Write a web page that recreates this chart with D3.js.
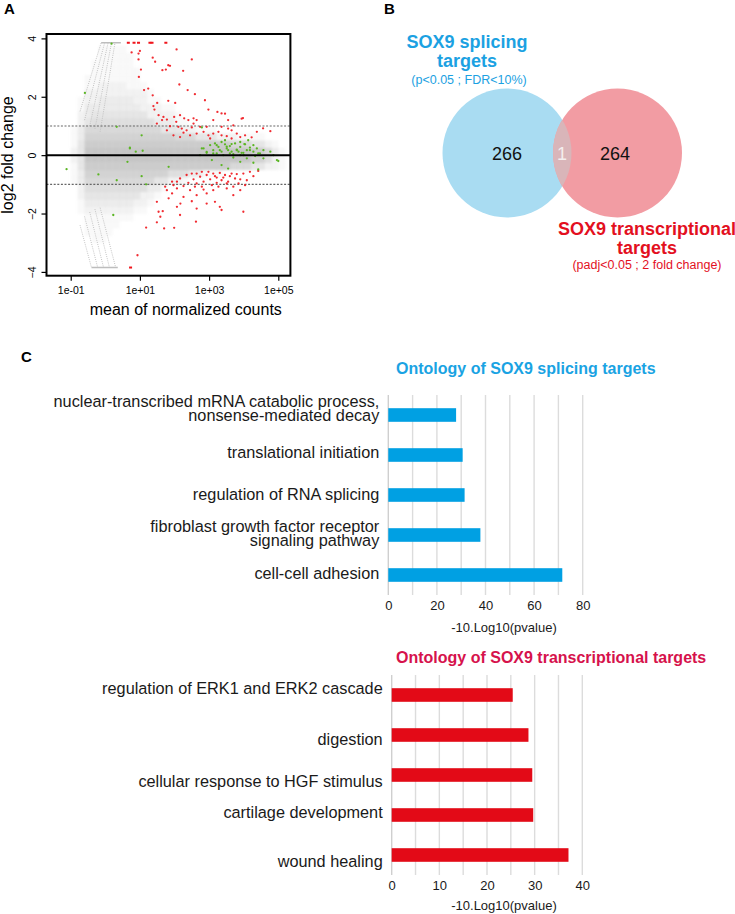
<!DOCTYPE html>
<html><head><meta charset="utf-8">
<script src="https://cdn.jsdelivr.net/npm/d3@7"></script>
<style>
body{margin:0;background:#fff}
svg{display:block}
text{font-family:"Liberation Sans",Arial,Helvetica,sans-serif}
</style>
</head><body>
<svg id="fig" width="735" height="914"></svg>
<script>
// ---------------- DATA ----------------
// Panel A: MA plot (x = log10 mean of normalized counts, y = log2 fold change)
const maXTicks = [0.1, 10, 1000, 100000];
const maXTickLabels = ["1e-01", "1e+01", "1e+03", "1e+05"];
const maYTicks = [-4, -2, 0, 2, 4];
// gray point density, rows from lfc 4 down to -4 (step 0.25), columns from log10 -1.4 (step 0.2)
const maGrayDensity = [
  "0",
  "0000001111",
  "00000011111",
  "00000111111",
  "000001111111",
  "000011111111",
  "0000112222111",
  "00002222222221",
  "000122333332211",
  "00013333333322211",
  "000234444444422221",
  "000245555555553331100",
  "00136666666666644422111",
  "001377777777777776664442221111",
  "0014888888888888888888888666442100",
  "0024999999999999999999999999886310",
  "0024999999999999999999999999775210",
  "0014888888888888888888888666442210",
  "0013777777777777555331110",
  "00136666666666442210",
  "0002555555555331",
  "000244444444221",
  "00013333333221",
  "0001222222211",
  "00001111111",
  "000011111",
  "00001111",
  "0000011",
  "0", "0", "0", "0"
];
// low-count streaks [log10 start, lfc start, log10 end, lfc end]
const maStreaks = [
  [-0.73, 1.5, -0.12, 3.85], [-0.6, 1.2, -0.02, 3.85], [-0.45, 1.0, 0.08, 3.85],
  [-0.3, 0.9, 0.18, 3.85], [-0.15, 0.8, 0.28, 3.85],
  [-0.73, -2.4, -0.4, -3.85], [-0.6, -2.1, -0.22, -3.85], [-0.45, -1.95, -0.05, -3.85],
  [-0.3, -1.85, 0.12, -3.85], [-0.15, -1.8, 0.3, -3.85]
];
// capped (out of range) gray genes [log10 start, log10 end, lfc]
const maGrayCaps = [[-0.12, 0.45, 3.85], [-0.4, 0.36, -3.85]];
const maRedUp = [
  [0.76,3.52],[0.96,3.48],[1.0,3.57],[0.96,3.28],[1.37,3.34],[1.44,3.2],[2.06,3.62],[2.5,3.28],
  [1.82,3.08],[1.87,3.06],[1.65,2.91],[1.75,2.93],[2.25,2.89],[1.03,2.93],[0.97,2.68],[2.14,2.42],
  [1.24,2.28],[1.12,2.23],[2.38,2.23],[2.59,2.09],[1.37,2.05],[1.5,1.79],[1.82,1.86],[2.88,1.88],
  [2.02,1.79],[1.39,1.68],[1.42,1.56],[2.98,1.56],[3.36,1.43],[3.24,1.48],[3.46,1.42],[1.54,1.37],
  [1.68,1.31],[1.99,1.31],[2.16,1.37],[2.28,1.26],[2.4,1.2],[2.55,1.26],[2.64,1.2],[1.78,1.22],
  [2.05,1.14],[3.55,1.2],[3.94,1.25],[3.12,1.2],[1.49,1.08],[1.87,0.99],[2.11,0.97],[2.21,0.91],
  [2.35,0.85],[2.5,0.95],[2.74,0.97],[2.64,0.74],[2.45,0.68],[2.84,0.8],[2.98,0.68],[3.12,0.74],
  [3.27,0.8],[3.36,0.68],[3.51,0.65],[3.65,0.85],[3.8,0.74],[3.9,0.62],[4.04,0.68],[4.23,0.61],
  [4.38,0.8],[4.77,0.82],[1.97,0.68],[2.16,0.62],[2.26,0.77],[3.03,0.57],[3.65,0.57],[1.78,0.85],
  [1.64,1.2],[2.55,1.08],[2.93,0.97],[3.36,0.97],[3.55,0.91],[3.7,1.02],[3.98,1.27],[4.56,0.92]
];
const maRedDown = [
  [0.93,-3.43],[1.18,-2.48],[1.49,-2.3],[1.7,-2.51],[1.99,-2.49],[2.62,-2.28],[1.54,-1.94],[1.66,-1.92],
  [1.49,-1.6],[2.07,-1.77],[2.17,-1.66],[2.5,-1.58],[3.31,-1.77],[3.36,-1.88],[3.99,-1.94],[3.17,-1.6],
  [1.83,-1.48],[1.93,-1.31],[2.26,-1.43],[2.64,-1.37],[2.93,-1.31],[3.12,-1.2],[3.51,-1.14],[3.9,-1.2],
  [1.73,-1.08],[1.78,-1.2],[1.97,-1.03],[2.07,-1.14],[2.26,-1.06],[2.4,-0.95],[2.55,-0.83],[2.64,-0.97],
  [2.74,-0.74],[2.84,-0.91],[2.93,-0.68],[3.03,-0.83],[3.12,-0.63],[3.22,-0.77],[3.31,-0.61],[3.36,-0.86],
  [3.46,-0.68],[3.55,-0.91],[3.65,-0.63],[3.75,-0.8],[3.85,-0.97],[3.99,-0.63],[4.09,-0.86],[4.18,-0.57],
  [4.28,-0.72],[4.42,-0.54],[2.35,-0.68],[2.16,-0.8],[2.5,-0.63],[1.93,-0.91],[3.08,-1.03],[3.27,-1.08],
  [2.79,-1.08],[3.7,-1.08],[2.16,-2.05],[1.59,-2.11],[2.64,-1.83],[2.93,-1.66],[3.7,-1.37],[2.98,-0.57],
  [3.17,-0.72],[3.41,-0.77],[3.6,-0.72],[3.8,-0.65],[3.9,-0.83],[2.59,-1.08],[2.45,-1.2],[2.84,-1.18],
  [3.22,-0.95],[3.51,-0.97],[4.04,-1.03],[2.64,-0.63],[2.79,-0.57],[2.07,-0.91]
];
const maRedCapped = [[0.665,3.85],[0.83,3.85],[0.96,3.85],[1.29,3.85],[1.35,3.85],[1.75,3.85],[0.73,-3.85]];
const maGreen = [
  [-0.59,2.13],[0.18,3.82],[0.33,0.97],[1.05,0.68],[0.71,0.23],[0.88,0.12],[2.79,0.95],
  [-1.12,-0.48],[-0.2,-0.66],[0.33,-0.86],[0.64,-0.23],[1.05,-0.72],[1.18,-1.0],[0.23,-2.05],
  [1.83,-0.4],[0.71,0.26],[1.08,0.15],
  [2.84,0.23],[3.03,0.34],[3.12,0.17],[3.27,0.28],[3.36,0.12],[3.46,0.37],[3.51,0.23],[3.6,0.31],
  [3.65,0.12],[3.75,0.4],[3.8,0.19],[3.9,0.28],[3.94,0.08],[4.04,0.37],[4.09,0.17],[4.18,0.26],
  [4.28,0.12],[4.38,0.23],[4.47,0.06],[4.57,0.17],[4.77,0.12],[4.96,-0.17],[3.22,0.06],[2.93,0.08],
  [3.46,0.51],[3.9,0.45],[4.13,0.51],[2.74,0.0],[3.7,0.03],[4.0,0.0],[3.36,0.45],[4.28,0.34],
  [3.55,0.17],[3.85,0.12],[3.17,0.4],
  [2.79,0.23],[2.93,0.11],[3.12,0.06],[3.31,0.17],[3.41,0.0],[3.51,0.29],[3.6,0.06],[3.7,-0.08],
  [3.8,0.17],[3.9,0.0],[3.99,0.08],[4.09,-0.11],[4.18,0.17],[4.33,-0.03],[4.42,0.06],[4.57,-0.11],
  [4.86,0.0],[5.0,-0.2],[3.36,-0.34],[3.55,-0.46],[3.08,-0.17],[4.28,-0.26],[4.42,-0.49],[3.9,-0.23],
  [3.65,0.38],[3.22,0.34],[4.02,0.38]
];

// Panel B: Venn
const vennSetNames = ["SOX9 splicing", "SOX9 transcriptional"];
const vennSetCriteria = ["(p<0.05 ; FDR<10%)", "(padj<0.05 ; 2 fold change)"];
const vennCounts = [266, 1, 264]; // only splicing, both, only transcriptional

// Panel C: GO bar charts
const splicingTerms = [
  "nuclear-transcribed mRNA catabolic process,\nnonsense-mediated decay",
  "translational initiation",
  "regulation of RNA splicing",
  "fibroblast growth factor receptor\nsignaling pathway",
  "cell-cell adhesion"
];
const splicingValues = [27.9, 30.6, 31.4, 37.9, 71.6];
const splicingTicks = [0, 20, 40, 60, 80];
const transcriptionalTerms = [
  "regulation of ERK1 and ERK2 cascade",
  "digestion",
  "cellular response to HGF stimulus",
  "cartilage development",
  "wound healing"
];
const transcriptionalValues = [25.4, 28.7, 29.5, 29.7, 37.1];
const transcriptionalTicks = [0, 10, 20, 30, 40];

// ---------------- DRAW ----------------
const svg = d3.select("#fig");
const BLUE = "#1ba1e2", RED = "#e3101e";

// ===== Panel A =====
svg.append("text").attr("x", 4).attr("y", 14).attr("font-size", 15).attr("font-weight", "bold").text("A");

const xA = d3.scaleLog().domain([Math.pow(10, -1.7), Math.pow(10, 5.35)]).range([46.5, 290.4]);
const yA = d3.scaleLinear().domain([-4.13, 4.15]).range([275.7, 34]);
const L = v => xA(Math.pow(10, v));

const defs = svg.append("defs");
defs.append("clipPath").attr("id", "maClip").append("rect")
  .attr("x", 46.5).attr("y", 34).attr("width", 290.4 - 46.5).attr("height", 275.7 - 34);
defs.append("filter").attr("id", "soft").attr("x", "-5%").attr("y", "-5%").attr("width", "110%").attr("height", "110%")
  .append("feGaussianBlur").attr("stdDeviation", 1.3);

const gA = svg.append("g").attr("clip-path", "url(#maClip)");

// gray density cells
const cells = [];
maGrayDensity.forEach((row, j) => {
  for (let i = 0; i < row.length; i++) {
    const v = +row[i];
    if (v > 0) cells.push({ i, j, v });
  }
});
const cW = 0.2, cH = 0.25, c0 = -1.4;
gA.append("g").attr("filter", "url(#soft)")
  .selectAll("rect").data(cells).join("rect")
  .attr("x", d => L(c0 + d.i * cW))
  .attr("width", d => L(c0 + (d.i + 1) * cW) - L(c0 + d.i * cW) + 0.3)
  .attr("y", d => yA(4 - d.j * cH))
  .attr("height", d => yA(4 - (d.j + 1) * cH) - yA(4 - d.j * cH) + 0.3)
  .attr("fill", "#c6c6c6")
  .attr("fill-opacity", d => Math.min(1, d.v / 9));

// streaks
gA.selectAll("line.streak").data(maStreaks).join("line")
  .attr("x1", d => L(d[0])).attr("y1", d => yA(d[1]))
  .attr("x2", d => L(d[2])).attr("y2", d => yA(d[3]))
  .attr("stroke", "#c2c2c2").attr("stroke-width", 1).attr("stroke-dasharray", "1,1.2");
gA.selectAll("line.cap").data(maGrayCaps).join("line")
  .attr("x1", d => L(d[0])).attr("x2", d => L(d[1]))
  .attr("y1", d => yA(d[2])).attr("y2", d => yA(d[2]))
  .attr("stroke", "#bdbdbd").attr("stroke-width", 1.6);

// reference lines
gA.selectAll("line.ref").data([1, -1]).join("line")
  .attr("x1", 46.5).attr("x2", 290.4).attr("y1", d => yA(d)).attr("y2", d => yA(d))
  .attr("stroke", "#666").attr("stroke-width", 1.1).attr("stroke-dasharray", "2,1.6");

// red points
gA.append("g").selectAll("circle").data(maRedUp.concat(maRedDown)).join("circle")
  .attr("cx", d => L(d[0])).attr("cy", d => yA(d[1])).attr("r", 1.15)
  .attr("fill", "#f0151c").attr("fill-opacity", 0.9);
gA.append("g").selectAll("rect").data(maRedCapped).join("rect")
  .attr("x", d => L(d[0]) - 1.5).attr("y", d => yA(d[1]) - 1).attr("width", 3).attr("height", 2)
  .attr("fill", "#f0151c");
// green points
gA.append("g").selectAll("circle").data(maGreen).join("circle")
  .attr("cx", d => L(d[0])).attr("cy", d => yA(d[1])).attr("r", 1.15)
  .attr("fill", "#5bb524");

// zero line
svg.append("line").attr("x1", 46.5).attr("x2", 290.4).attr("y1", yA(0)).attr("y2", yA(0))
  .attr("stroke", "#000").attr("stroke-width", 2);

// axes
const axL = svg.append("g").attr("transform", "translate(46.5,0)")
  .call(d3.axisLeft(yA).tickValues(maYTicks).tickSize(5).tickFormat(d3.format("d")));
axL.select(".domain").remove();
axL.selectAll("line").attr("stroke", "#000").attr("stroke-width", 1.2);
axL.selectAll("text").attr("transform", "rotate(-90)").attr("x", 0).attr("y", -10.5).attr("dy", 0)
  .attr("text-anchor", "middle").attr("font-size", 10.5).attr("fill", "#000")
  .attr("font-family", "'Liberation Sans',Arial,sans-serif");

const axB = svg.append("g").attr("transform", "translate(0,275.7)")
  .call(d3.axisBottom(xA).tickValues(maXTicks).tickSize(5).tickFormat((d, i) => maXTickLabels[i]));
axB.select(".domain").remove();
axB.selectAll("line").attr("stroke", "#000").attr("stroke-width", 1.2);
axB.selectAll("text").attr("y", 10.5).attr("dy", "0.71em").attr("font-size", 10.5).attr("fill", "#000")
  .attr("font-family", "'Liberation Sans',Arial,sans-serif");

svg.append("rect").attr("x", 46.5).attr("y", 34).attr("width", 290.4 - 46.5).attr("height", 275.7 - 34)
  .attr("fill", "none").attr("stroke", "#000").attr("stroke-width", 2);

svg.append("text").attr("x", 185.8).attr("y", 315.3).attr("text-anchor", "middle").attr("font-size", 16)
  .text("mean of normalized counts");
svg.append("text").attr("transform", "translate(13,155) rotate(-90)").attr("text-anchor", "middle")
  .attr("font-size", 16).text("log2 fold change");

// ===== Panel B =====
svg.append("text").attr("x", 384).attr("y", 14).attr("font-size", 15).attr("font-weight", "bold").text("B");
const vennLeft = { cx: 507, cy: 153, r: 64.5 };
const vennRight = { cx: 617.5, cy: 153, r: 64.5 };
defs.append("clipPath").attr("id", "blueClip").append("circle")
  .attr("cx", vennLeft.cx).attr("cy", vennLeft.cy).attr("r", vennLeft.r);
svg.append("circle").attr("cx", vennLeft.cx).attr("cy", vennLeft.cy).attr("r", vennLeft.r).attr("fill", "#a9dcf2");
svg.append("circle").attr("cx", vennRight.cx).attr("cy", vennRight.cy).attr("r", vennRight.r).attr("fill", "#f29ca3");
svg.append("circle").attr("cx", vennRight.cx).attr("cy", vennRight.cy).attr("r", vennRight.r)
  .attr("fill", "#d9b5b9").attr("clip-path", "url(#blueClip)");

const vennNumX = [507, 562, 615];
svg.selectAll("text.vnum").data(vennCounts).join("text")
  .attr("x", (d, i) => vennNumX[i]).attr("y", 159.5).attr("text-anchor", "middle")
  .attr("font-size", 18).attr("fill", (d, i) => i === 1 ? "#f4eeee" : "#111").text(d => d);

svg.append("text").attr("x", 467).attr("y", 48.3).attr("text-anchor", "middle").attr("font-size", 18)
  .attr("font-weight", "bold").attr("fill", BLUE).text(vennSetNames[0]);
svg.append("text").attr("x", 467).attr("y", 67).attr("text-anchor", "middle").attr("font-size", 18)
  .attr("font-weight", "bold").attr("fill", BLUE).text("targets");
svg.append("text").attr("x", 469).attr("y", 83.5).attr("text-anchor", "middle").attr("font-size", 12.5)
  .attr("fill", BLUE).text(vennSetCriteria[0]);

svg.append("text").attr("x", 647).attr("y", 235).attr("text-anchor", "middle").attr("font-size", 18)
  .attr("font-weight", "bold").attr("fill", RED).text(vennSetNames[1]);
svg.append("text").attr("x", 647).attr("y", 254).attr("text-anchor", "middle").attr("font-size", 18)
  .attr("font-weight", "bold").attr("fill", RED).text("targets");
svg.append("text").attr("x", 647).attr("y", 268.5).attr("text-anchor", "middle").attr("font-size", 12.5)
  .attr("fill", RED).text(vennSetCriteria[1]);

// ===== Panel C =====
svg.append("text").attr("x", 21).attr("y", 362).attr("font-size", 15).attr("font-weight", "bold").text("C");

function barChart(opts) {
  const { terms, values, ticks, max, step, x0, x1, yTop, yBot, color, title, titleColor, titleY, labelShift, tickY, axisTitleY } = opts;
  const xs = d3.scaleLinear().domain([0, max]).range([x0, x1]);
  const ys = d3.scaleBand().domain(terms).range([yTop, yBot]).paddingInner(0.66).paddingOuter(0.33);
  const g = svg.append("g");
  g.selectAll("line.grid").data(d3.range(0, max + 0.001, step)).join("line")
    .attr("x1", d => xs(d)).attr("x2", d => xs(d)).attr("y1", yTop).attr("y2", yBot)
    .attr("stroke", d => d === 0 ? "#cfcfcf" : "#dcdcdc").attr("stroke-width", 1.4);
  g.selectAll("rect.bar").data(values).join("rect")
    .attr("x", xs(0)).attr("y", (d, i) => ys(terms[i]))
    .attr("width", d => xs(d) - xs(0)).attr("height", ys.bandwidth())
    .attr("fill", color);
  // category labels
  terms.forEach((t, i) => {
    const lines = t.split("\n");
    const c = ys(t) + ys.bandwidth() / 2;
    const first = c + 4 + labelShift[i] - (lines.length - 1) * 7.3;
    lines.forEach((ln, k) => {
      g.append("text").attr("x", x0 - 9).attr("y", first + k * 14.6).attr("text-anchor", "end")
        .attr("font-size", 16.3).attr("fill", "#1a1a1a").text(ln);
    });
  });
  const ax = g.append("g").attr("transform", `translate(0,${tickY})`)
    .call(d3.axisBottom(xs).tickValues(ticks).tickSize(0).tickFormat(d3.format("d")));
  ax.select(".domain").remove();
  ax.selectAll("text").attr("y", 0).attr("dy", 0).attr("font-size", 13).attr("fill", "#1a1a1a")
    .attr("font-family", "'Liberation Sans',Arial,sans-serif");
  g.append("text").attr("x", 504).attr("y", axisTitleY).attr("text-anchor", "middle").attr("font-size", 13)
    .attr("fill", "#1a1a1a").text("-10.Log10(pvalue)");
  g.append("text").attr("x", 396).attr("y", titleY).attr("font-size", 16).attr("font-weight", "bold")
    .attr("fill", titleColor).text(title);
}

barChart({
  terms: splicingTerms, values: splicingValues, ticks: splicingTicks, max: 80, step: 10,
  x0: 388.3, x1: 582.7, yTop: 395, yBot: 595, color: "#00a0e3",
  title: "Ontology of SOX9 splicing targets", titleColor: "#1aa3e3", titleY: 374,
  labelShift: [-5, -1, 1, 0, 0], tickY: 610, axisTitleY: 632
});
barChart({
  terms: transcriptionalTerms, values: transcriptionalValues, ticks: transcriptionalTicks, max: 40, step: 5,
  x0: 391.7, x1: 582.3, yTop: 675, yBot: 875, color: "#e30a17",
  title: "Ontology of SOX9 transcriptional targets", titleColor: "#d6124c", titleY: 662.5,
  labelShift: [-5, 6, 8, -1, 8], tickY: 890, axisTitleY: 910
});
</script>
</body></html>
